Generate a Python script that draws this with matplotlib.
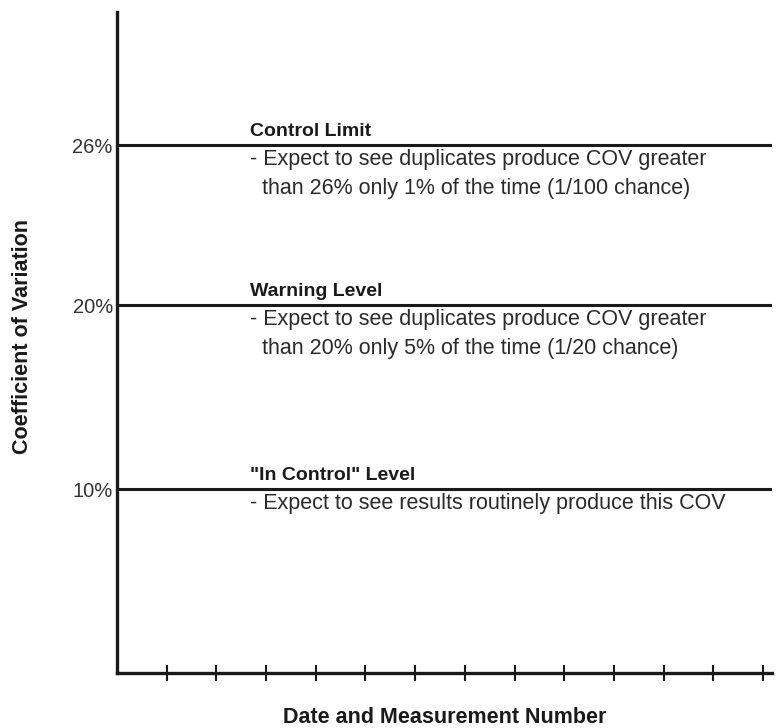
import numpy as np
import matplotlib
matplotlib.use("Agg")
import matplotlib.pyplot as plt

plt.rcParams['font.family'] = ['Liberation Sans', 'DejaVu Sans']

# control chart levels (COV, %)
levels = [26, 20, 10]
level_labels = ["26%", "20%", "10%"]
level_titles = ["Control Limit", "Warning Level", "\"In Control\" Level"]
level_notes = [
    "- Expect to see duplicates produce COV greater\n  than 26% only 1% of the time (1/100 chance)",
    "- Expect to see duplicates produce COV greater\n  than 20% only 5% of the time (1/20 chance)",
    "- Expect to see results routinely produce this COV",
]
measurements = list(range(1, 14))

# the original drawing is schematic: the gap above 20% is stretched
anchors_in = [0, 20, 26, 100]
anchors_out = [0, 20, 28.7, 28.7 + 74 * 1.45]

def fwd(v):
    return np.interp(v, anchors_in, anchors_out)

def inv(v):
    return np.interp(v, anchors_out, anchors_in)

fig = plt.figure(figsize=(7.78, 7.28), dpi=100)
ax = fig.add_axes([117/778, 1 - 673/728, (772-117)/778, (673-12)/728])
ax.set_yscale('function', functions=(fwd, inv))
ax.set_xlim(0, 13.18)
ax.set_ylim(0, 31)

ink = '#1a1a1a'
for lvl, title, note in zip(levels, level_titles, level_notes):
    ax.axhline(lvl, color=ink, lw=2.2)
    ax.annotate(title, xy=(0.203, lvl), xycoords=('axes fraction', 'data'),
                xytext=(0, 4), textcoords='offset points',
                ha='left', va='bottom', fontsize=14, fontweight='bold', color=ink)
    ax.annotate(note, xy=(0.203, lvl), xycoords=('axes fraction', 'data'),
                xytext=(0, -3), textcoords='offset points',
                ha='left', va='top', fontsize=15.5, color='#2a2a2a', linespacing=1.45)

ax.set_yticks(levels)
ax.set_yticklabels(level_labels)
ax.set_xticks(measurements)
ax.set_xticklabels([])
ax.tick_params(axis='y', length=0, pad=3, labelsize=14.5, labelcolor='#333333')
ax.tick_params(axis='x', direction='inout', length=11, width=1.5, color=ink)

for s in ['top', 'right']:
    ax.spines[s].set_visible(False)
for s in ['left', 'bottom']:
    ax.spines[s].set_linewidth(2.4)
    ax.spines[s].set_color(ink)

ax.set_ylabel("Coefficient of Variation", fontsize=15.5, fontweight='bold', color=ink)
ax.set_xlabel("Date and Measurement Number", fontsize=15.5, fontweight='bold', color=ink)
ax.yaxis.set_label_coords(-0.145, 0.509)
ax.yaxis.label.set_va('center')
ax.xaxis.set_label_coords(0.5, -0.067)
ax.xaxis.label.set_va('center')

fig.savefig("out.png", dpi=100, facecolor='white')
